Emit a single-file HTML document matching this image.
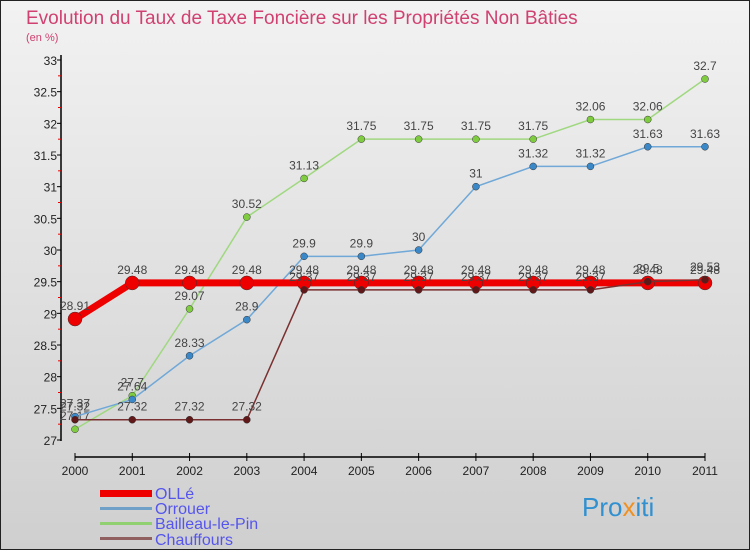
<!DOCTYPE html>
<html><head><meta charset="utf-8"><style>
body{margin:0;width:750px;height:550px;overflow:hidden;font-family:"Liberation Sans","DejaVu Sans",sans-serif}
#wrap{position:absolute;left:0;top:0;width:748px;height:548px;border:1px solid #222;background:linear-gradient(#f2f2f2,#cfcfcf)}
</style></head><body>
<div id="wrap">
<svg id="chart" width="750" height="550" style="position:absolute;left:-1px;top:-1px">
<text x="26" y="24" font-size="19" fill="#d04070">Evolution du Taux de Taxe Foncière sur les Propriétés Non Bâties</text>
<text x="26" y="41" font-size="11" fill="#d04070">(en %)</text>
<g id="axes"></g><g id="series"></g>
<g font-size="16" fill="#5555ee">
<rect x="100" y="490" width="52" height="7" fill="#e00"/>
<text x="155" y="499">OLLé</text>
<rect x="100" y="507" width="52" height="3" fill="#6fa0c8"/>
<text x="155" y="514">Orrouer</text>
<rect x="100" y="522" width="52" height="3" fill="#90d070"/>
<text x="155" y="529">Bailleau-le-Pin</text>
<rect x="100" y="537" width="52" height="3" fill="#906060"/>
<text x="155" y="545">Chauffours</text>
</g>
<text x="582" y="516" font-size="26" fill="#3090d0">Pro<tspan fill="#f09020">x</tspan>iti</text>
</svg>
</div>
<script>
const years=["2000","2001","2002","2003","2004","2005","2006","2007","2008","2009","2010","2011"];
const yTicks=[27,27.5,28,28.5,29,29.5,30,30.5,31,31.5,32,32.5,33];
const olle=[28.91,29.48,29.48,29.48,29.48,29.48,29.48,29.48,29.48,29.48,29.48,29.48];
const orrouer=[27.37,27.64,28.33,28.9,29.9,29.9,30,31,31.32,31.32,31.63,31.63];
const bailleau=[27.17,27.7,29.07,30.52,31.13,31.75,31.75,31.75,31.75,32.06,32.06,32.7];
const chauffours=[27.32,27.32,27.32,27.32,29.37,29.37,29.37,29.37,29.37,29.37,29.5,29.53];
const NS="http://www.w3.org/2000/svg";
const X=i=>75+i*(630/11);
const Y=v=>440-(v-27)*(380/6);
function mk(t,a,p){const e=document.createElementNS(NS,t);for(const k in a)e.setAttribute(k,a[k]);p.appendChild(e);return e;}
const ax=document.getElementById('axes');
mk('line',{x1:61,y1:55,x2:61,y2:441,stroke:'#000','stroke-width':1.5},ax);
mk('line',{x1:75,y1:457,x2:705,y2:457,stroke:'#000','stroke-width':1.5},ax);
yTicks.forEach(v=>{const t=mk('text',{x:57,y:Y(v)+5,'text-anchor':'end','font-size':12,fill:'#222'},ax);t.textContent=v;


mk('line',{x1:57,y1:Y(v),x2:61,y2:Y(v),stroke:'#000'},ax);
if(v<33)mk('line',{x1:58,y1:Y(v+0.25),x2:61,y2:Y(v+0.25),stroke:'#e00'},ax);});
years.forEach((y,i)=>{mk('line',{x1:X(i),y1:453,x2:X(i),y2:461,stroke:'#000'},ax);
const t=mk('text',{x:X(i),y:475,'text-anchor':'middle','font-size':12,fill:'#222'},ax);t.textContent=y;

});
const sg=document.getElementById('series');
function draw(vals,name,col,w,r,dot){
const g=mk('g',{},sg);


mk('polyline',{points:vals.map((v,i)=>X(i)+','+Y(v)).join(' '),fill:'none',stroke:col,'stroke-width':w},g);
vals.forEach((v,i)=>{const c=mk('circle',{cx:X(i),cy:Y(v),r:r,fill:dot,stroke:'#333','stroke-width':0.5},g);


const t=mk('text',{x:X(i),y:Y(v)-9,'text-anchor':'middle','font-size':12,fill:'#444'},g);t.textContent=v;

});}
draw(bailleau,'bailleau','#a0d880',1.5,3.5,'#80cc40');
draw(orrouer,'orrouer','#70a8d8',1.5,3.5,'#3a88c8');
draw(olle,'olle','#ee0000',7,7,'#ee0000');
draw(chauffours,'chauffours','#7a3030',1.5,3.5,'#601818');
</script>
</body></html>
